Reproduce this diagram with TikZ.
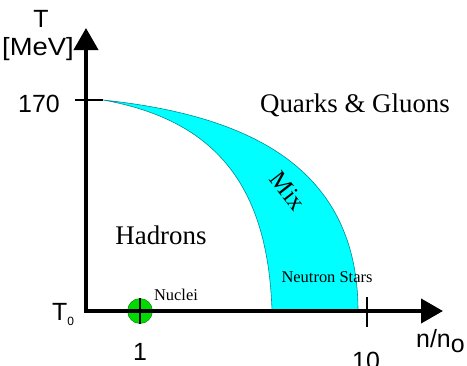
\documentclass[tikz,border=0pt]{standalone}
\usepackage{fontspec}
\setmainfont{Liberation Serif}
\newfontfamily\axfont{Liberation Sans}
\usetikzlibrary{arrows.meta}
\definecolor{mixcyan}{RGB}{0,255,255}
\definecolor{mixedge}{RGB}{0,140,150}
\definecolor{nucgreen}{RGB}{0,220,0}
\tikzset{phasediag/.style={x=1bp,y=1bp},
  axlbl/.style={font=\axfont\fontsize{25}{25}\selectfont,inner sep=0},
  reglbl/.style={font=\fontsize{27}{27}\selectfont,inner sep=0},
  smlbl/.style={font=\fontsize{16.5}{16.5}\selectfont,inner sep=0},
  tick/.style={line width=2.5bp}}

\begin{document}
\begin{tikzpicture}[phasediag]
    \useasboundingbox (0,0) rectangle (467,365);
    \coordinate (O) at (86,54);
    \coordinate (ytip) at (86,337);
    \coordinate (xtip) at (443,54);
    \coordinate (tc) at (103,265);
    % mixed phase band
    \fill[mixcyan,draw=mixedge,line width=0.6bp] (tc) .. controls (245,250) and (358,200) .. (358,54)
      -- (272,54) .. controls (268,180) and (215,245) .. (tc) -- cycle;
    \node[circle,fill=nucgreen,draw=green!45!black,minimum size=25bp,inner sep=0] (nuc) at (140,54) {};
    \draw[line width=4bp,line join=miter,{Triangle[width=24bp,length=22bp]}-{Triangle[width=24bp,length=22bp]}]
      (ytip) -- (O) -- (xtip);
    \draw[tick] (75,265) -- (tc);
    \draw[tick] (140,67) -- (140,41);
    \draw[tick] (367,68) -- (367,38);
    % axis labels
    \node[axlbl] (tlbl) at (41,346) {T};
    \node[axlbl,xscale=1.1] (unit) at (38,316) {[MeV]};
    \node[axlbl] (tcrit) at (39,261) {170};
    \node[axlbl,anchor=base west] (tzero) at (52,45) {T\raisebox{-0.45ex}{\fontsize{12}{12}\selectfont 0}};
    \node[axlbl,anchor=base west] (dens) at (416,18) {n/n\raisebox{-0.45ex}{o}};
    \node[axlbl,anchor=base] (one) at (140,5) {1};
    \node[axlbl,anchor=base] (ten) at (366,-4) {10};
    % phase regions
    \node[reglbl,anchor=base] (qgp) at (355,253) {Quarks \& Gluons};
    \node[reglbl,anchor=base] (had) at (161,121) {Hadrons};
    \node[font=\fontsize{25}{25}\selectfont,inner sep=0,rotate=-52] (mix) at (288,174) {Mix};
    \node[smlbl,anchor=base] (ns) at (327,83) {Neutron Stars};
    \node[smlbl,anchor=base] (nuclei) at (176,65) {Nuclei};
\end{tikzpicture}
\end{document}
